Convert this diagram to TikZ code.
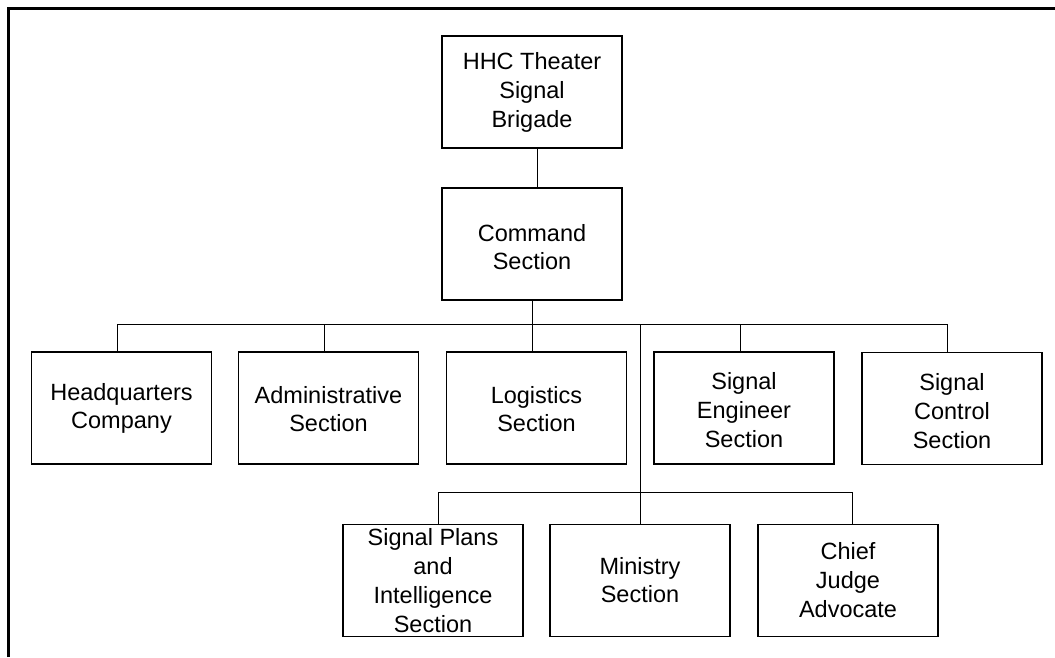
\documentclass[tikz,border=0pt]{standalone}
\usepackage{fontspec}
\setmainfont{Liberation Sans}
\newcommand\txtdown[1]{\rule{0pt}{#1}}
\begin{document}
\begin{tikzpicture}[x=1pt,y=-1pt,
  box/.style={draw, line width=1.5pt, inner sep=0pt, align=center,
    minimum width=180pt, minimum height=112pt,
    font=\fontsize{23.5}{29}\selectfont},
  two/.style={font=\fontsize{23.5}{28}\selectfont},
  link/.style={line width=1pt},
  frame/.style={line width=3pt}]
\useasboundingbox (0,0) rectangle (1055,657);
\draw[frame] (8,657) -- (8,8.5) -- (1055,8.5);

\node[box] (hhc) at (532,92) {HHC Theater\\Signal\\Brigade};
\node[box,two] (cmd) at (532,244) {\txtdown{24pt}Command\\Section};

\node[box,two] (hq) at (121.5,408) {Headquarters\\Company};
\node[box,two] (adm) at (328.5,408) {\txtdown{19pt}Administrative\\Section};
\node[box,two] (log) at (536.5,408) {\txtdown{19pt}Logistics\\Section};
\node[box] (se) at (744,408) {\txtdown{22pt}Signal\\Engineer\\Section};
\node[box] (sc) at (952,408.5) {\txtdown{22pt}Signal\\Control\\Section};

\node[box] (plans) at (433,580.5) {Signal Plans\\and\\Intelligence\\Section};
\node[box,two] (min) at (640,580.5) {Ministry\\Section};
\node[box] (chief) at (848,580.5) {Chief\\Judge\\Advocate};

\coordinate (bus) at (0,324);
\coordinate (bus2) at (0,492);

\draw[link] ([xshift=5pt]hhc.south) -- ([xshift=5pt]cmd.north);
\draw[link] (cmd.south) -- (cmd.south |- log.north);
\draw[link] ([xshift=-4.5pt]hq.north) |- ([xshift=-5pt]sc.north |- bus) -- ([xshift=-5pt]sc.north);
\draw[link] ([xshift=-4.5pt]adm.north) -- ([xshift=-4.5pt]adm.north |- bus);
\draw[link] ([xshift=-4pt]se.north) -- ([xshift=-4pt]se.north |- bus);
\draw[link] (min.north) -- (min.north |- bus);
\draw[link] ([xshift=5pt]plans.north) |- ([xshift=4pt]chief.north |- bus2) -- ([xshift=4pt]chief.north);
\end{tikzpicture}
\end{document}
